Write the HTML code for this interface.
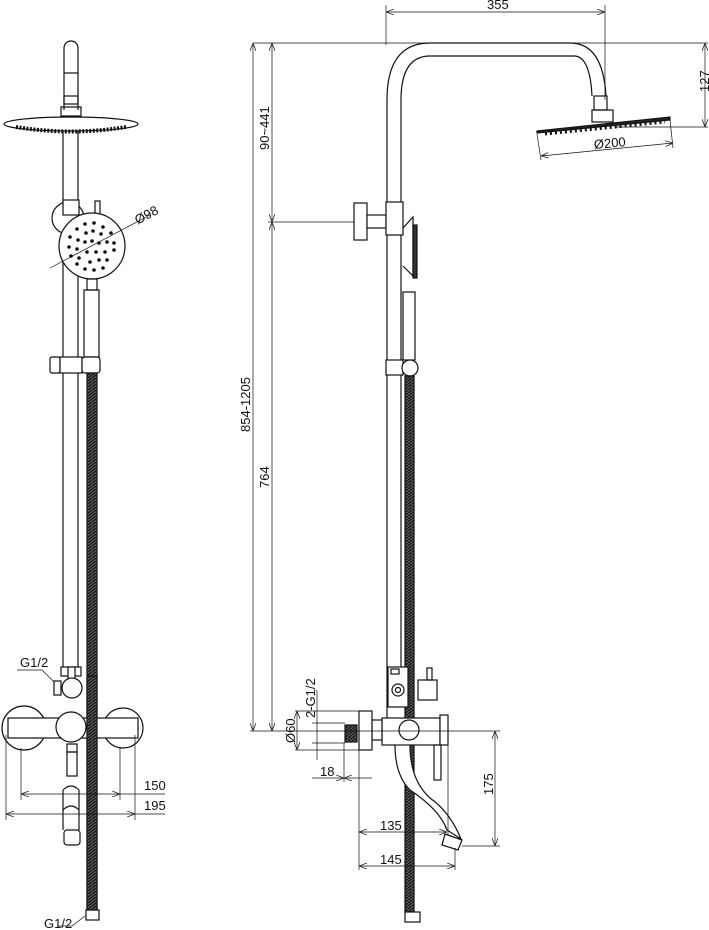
<!DOCTYPE html>
<html><head><meta charset="utf-8"><style>
html,body{margin:0;padding:0;background:#fff}
svg{display:block}
text{font-family:"Liberation Sans",sans-serif;font-size:13px;fill:#111}
</style></head><body>
<svg width="709" height="930" viewBox="0 0 709 930" xmlns="http://www.w3.org/2000/svg">
<defs>
<pattern id="hose" width="4" height="3" patternUnits="userSpaceOnUse">
<rect width="4" height="3" fill="#555"/><line x1="0" y1="3" x2="4" y2="0" stroke="#111" stroke-width="1.2"/>
</pattern>
<marker id="ar" markerWidth="8" markerHeight="6" refX="8" refY="3" orient="auto-start-reverse" markerUnits="userSpaceOnUse">
<path d="M0,0 L8,3 L0,6" fill="none" stroke="#222" stroke-width="0.8"/></marker>
</defs>
<g fill="none" stroke="#111" stroke-width="1.2">
<!-- ===== LEFT VIEW ===== -->
<!-- top stub -->
<path d="M64,110 V48 A7,7 0 0 1 78,48 V110"/>
<line x1="64" y1="73" x2="78" y2="73"/>
<rect x="64" y="96" width="14" height="8"/>
<rect x="61" y="107" width="20" height="9"/>
<!-- head disk -->
<ellipse cx="71" cy="124" rx="67" ry="7" fill="#fff"/>
<path d="M16,127 Q71,136 126,127" stroke="#111" stroke-width="4" stroke-dasharray="2,1.5"/>
<!-- pipe -->
<line x1="63" y1="131" x2="63" y2="667"/>
<line x1="78" y1="131" x2="78" y2="667"/>
<!-- bracket circle -->
<circle cx="68" cy="218" r="16" fill="#fff"/>
<rect x="63" y="200" width="16" height="15" fill="#fff"/>
<rect x="95" y="201" width="5" height="15"/>
<!-- hand shower -->
<circle cx="92" cy="246" r="33" fill="#fff"/>
<g fill="#111" stroke="none">
<circle cx="85" cy="224" r="1.8"/><circle cx="94" cy="223" r="1.8"/><circle cx="103" cy="227" r="1.8"/><circle cx="77" cy="229" r="1.8"/>
<circle cx="70" cy="237" r="1.8"/><circle cx="78" cy="240" r="1.8"/><circle cx="86" cy="233" r="1.8"/><circle cx="93" cy="231" r="1.8"/><circle cx="101" cy="234" r="1.8"/><circle cx="111" cy="233" r="1.8"/>
<circle cx="69" cy="247" r="1.8"/><circle cx="77" cy="249" r="1.8"/><circle cx="85" cy="242" r="1.8"/><circle cx="92" cy="241" r="1.8"/><circle cx="99" cy="243" r="1.8"/><circle cx="107" cy="242" r="1.8"/><circle cx="114" cy="243" r="1.8"/>
<circle cx="71" cy="256" r="1.8"/><circle cx="79" cy="258" r="1.8"/><circle cx="87" cy="252" r="1.8"/><circle cx="96" cy="252" r="1.8"/><circle cx="105" cy="252" r="1.8"/><circle cx="114" cy="250" r="1.8"/>
<circle cx="77" cy="264" r="1.8"/><circle cx="85" cy="269" r="1.8"/><circle cx="90" cy="262" r="1.8"/><circle cx="99" cy="260" r="1.8"/><circle cx="107" cy="260" r="1.8"/><circle cx="94" cy="270" r="1.8"/><circle cx="103" cy="268" r="1.8"/>
</g>
<line x1="50" y1="268" x2="150" y2="215" stroke-width="0.7"/>
<rect x="87" y="279" width="10" height="11"/>
<rect x="84" y="290" width="15" height="67"/>
<!-- holder -->
<rect x="50" y="357" width="10" height="16" rx="2" fill="#fff"/>
<rect x="60" y="357" width="22" height="16" fill="#fff"/>
<rect x="82" y="357" width="18" height="16" rx="3" fill="#fff"/>
<!-- hose left -->
<rect x="87" y="373" width="10" height="537" fill="url(#hose)"/>
<rect x="86" y="910" width="13" height="10" fill="#fff"/>
<!-- mixer left -->
<rect x="61" y="667" width="20" height="9" fill="#fff"/>
<rect x="68" y="667" width="7" height="13" fill="#fff"/>
<circle cx="72" cy="688" r="10" fill="#fff"/>
<rect x="54" y="681" width="7" height="14" fill="#fff"/>
<circle cx="24" cy="728" r="22" fill="#fff"/>
<circle cx="123" cy="728" r="20" fill="#fff"/>
<rect x="8" y="718" width="130" height="20" fill="#fff"/>
<circle cx="71" cy="727" r="15" fill="#fff"/>
<rect x="67" y="744" width="10" height="8"/>
<rect x="67" y="752" width="10" height="24"/>
<path d="M63,790 Q71,782 79,790 M63,790 V810 M79,790 V810 M63,810 Q71,802 79,810 V830 M63,810 V830"/>
<rect x="64" y="830" width="16" height="15" rx="3"/>
<rect x="87" y="676" width="10" height="234" fill="url(#hose)"/>
<!-- left dims -->
<g stroke-width="0.7">
<line x1="6" y1="735" x2="6" y2="820"/><line x1="21" y1="748" x2="21" y2="800"/>
<line x1="120" y1="748" x2="120" y2="800"/><line x1="135" y1="735" x2="135" y2="820"/>
<line x1="21" y1="794" x2="120" y2="794" marker-start="url(#ar)" marker-end="url(#ar)"/>
<line x1="120" y1="794" x2="165" y2="794"/>
<line x1="6" y1="814" x2="135" y2="814" marker-start="url(#ar)" marker-end="url(#ar)"/>
<line x1="135" y1="814" x2="165" y2="814"/>
<polyline points="17,670 42,670 54,682"/>
<polyline points="58,926 72,926 85,916"/>
</g>
<!-- ===== RIGHT VIEW ===== -->
<path d="M387,730 V100 Q387,43 430,43 H570 Q603,43 606,96"/>
<path d="M401,202 V100 Q401,56 430,56 H574 Q590,56 592,96"/>
<rect x="594" y="96" width="13" height="14"/>
<rect x="592" y="110" width="21" height="12"/>
<path d="M537,131 L670,117 L670,120 L537,133 Z" fill="#222"/>
<path d="M545,134 L665,122" stroke-width="3" stroke-dasharray="2,3"/>
<!-- wall bracket -->
<rect x="354" y="203" width="13" height="37" fill="#fff"/>
<rect x="367" y="215" width="19" height="13" fill="#fff"/>
<rect x="386" y="202" width="17" height="33" fill="#fff"/>
<line x1="401" y1="235" x2="401" y2="360"/>
<path d="M403,228 L413,217 V276 L403,266"/>
<rect x="413" y="225" width="4" height="53" fill="#333"/>
<rect x="403" y="292" width="12" height="68"/>
<rect x="386" y="360" width="17" height="15" fill="#fff"/>
<circle cx="410" cy="368" r="8" fill="#fff"/>
<line x1="401" y1="375" x2="401" y2="667"/>
<rect x="405" y="376" width="9" height="536" fill="url(#hose)"/>
<rect x="405" y="912" width="15" height="10" fill="#fff"/>
<!-- mixer right -->
<rect x="388" y="667" width="20" height="40" fill="#fff"/>
<rect x="391" y="669" width="8" height="5"/>
<circle cx="398" cy="690" r="6" fill="#fff"/><circle cx="398" cy="690" r="2.5"/>
<rect x="418" y="680" width="19" height="20" fill="#fff"/>
<rect x="427" y="668" width="5" height="12"/>
<path d="M395,745 Q395,775 410,790 Q440,810 447,830 L461,839 Q450,812 430,798 Q410,780 410,745" fill="#fff"/>
<path d="M445,834 L462,840 L458,850 L442,845 Z" fill="#fff"/>
<rect x="382" y="718" width="58" height="27" fill="#fff"/>
<rect x="440" y="715" width="8" height="30" fill="#fff"/>
<rect x="434" y="745" width="7" height="35" fill="#fff"/>
<circle cx="409" cy="730" r="10" fill="#fff"/>
<rect x="372" y="720" width="10" height="20" fill="#fff"/>
<rect x="359" y="711" width="13" height="39" fill="#fff"/>
<rect x="345" y="725" width="12" height="17" fill="url(#hose)"/>
<!-- right dims -->
<g stroke-width="0.7">
<line x1="386" y1="5" x2="386" y2="45"/><line x1="605" y1="5" x2="605" y2="100"/>
<line x1="386" y1="12" x2="605" y2="12" marker-start="url(#ar)" marker-end="url(#ar)"/>
<line x1="253" y1="43" x2="708" y2="43"/>
<line x1="615" y1="127" x2="708" y2="127"/>
<line x1="705" y1="43" x2="705" y2="127" marker-start="url(#ar)" marker-end="url(#ar)"/>
<line x1="537" y1="134" x2="541" y2="160"/><line x1="670" y1="120" x2="673" y2="148"/>
<line x1="541" y1="156" x2="673" y2="143" marker-start="url(#ar)" marker-end="url(#ar)"/>
<line x1="253" y1="43" x2="253" y2="731" marker-start="url(#ar)" marker-end="url(#ar)"/>
<line x1="272" y1="43" x2="272" y2="222" marker-start="url(#ar)" marker-end="url(#ar)"/>
<line x1="272" y1="222" x2="272" y2="731" marker-start="url(#ar)" marker-end="url(#ar)"/>
<line x1="268" y1="222" x2="354" y2="222"/>
<line x1="250" y1="731" x2="500" y2="731"/>
<line x1="295" y1="711" x2="359" y2="711"/><line x1="295" y1="750" x2="359" y2="750"/>
<line x1="312" y1="723" x2="345" y2="723"/><line x1="312" y1="743" x2="345" y2="743"/>
<line x1="297" y1="711" x2="297" y2="750" marker-start="url(#ar)" marker-end="url(#ar)"/>
<line x1="317" y1="690" x2="317" y2="760"/>
<line x1="344" y1="743" x2="344" y2="782"/><line x1="359" y1="750" x2="359" y2="870"/>
<line x1="344" y1="778" x2="372" y2="778" marker-start="url(#ar)"/>
<line x1="312" y1="778" x2="344" y2="778" marker-end="url(#ar)"/>
<line x1="448" y1="745" x2="448" y2="835"/><line x1="455" y1="848" x2="455" y2="870"/>
<line x1="359" y1="832" x2="447" y2="832" marker-start="url(#ar)" marker-end="url(#ar)"/>
<line x1="359" y1="866" x2="455" y2="866" marker-start="url(#ar)" marker-end="url(#ar)"/>
<line x1="462" y1="846" x2="500" y2="846"/>
<line x1="495" y1="731" x2="495" y2="846" marker-start="url(#ar)" marker-end="url(#ar)"/>
</g>
</g>
<!-- labels -->
<text x="20" y="667">G1/2</text>
<text x="44" y="928">G1/2</text>
<text x="144" y="790">150</text>
<text x="144" y="810">195</text>
<text x="132" y="222" transform="rotate(-28 140 212)" font-size="9">Ø98</text>
<text x="487" y="9">355</text>
<text x="594" y="148" font-size="10" transform="rotate(-5 605 145)">Ø200</text>
<text transform="translate(709,92) rotate(-90)">127</text>
<text transform="translate(269,150) rotate(-90)">90~441</text>
<text transform="translate(250,432) rotate(-90)">854-1205</text>
<text transform="translate(269,488) rotate(-90)">764</text>
<text transform="translate(295,743) rotate(-90)">Ø60</text>
<text transform="translate(315,718) rotate(-90)">2-G1/2</text>
<text x="320" y="776">18</text>
<text x="380" y="830">135</text>
<text x="380" y="864">145</text>
<text transform="translate(493,795) rotate(-90)">175</text>
</svg>
</body></html>
